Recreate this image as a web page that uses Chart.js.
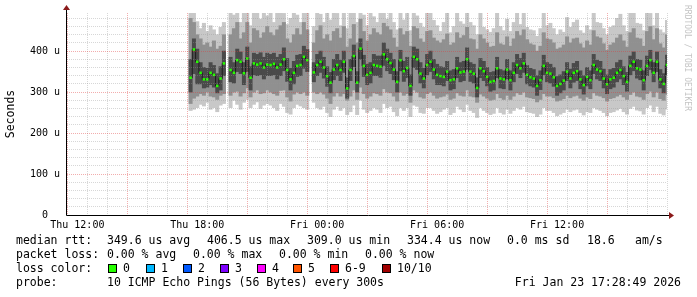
<!DOCTYPE html>
<html>
<head>
<meta charset="utf-8">
<script src="https://cdn.jsdelivr.net/npm/chart.js@4.4.1/dist/chart.umd.min.js"></script>
<style>
    html, body { margin: 0; padding: 0; background: #fff; }
    #wrap { width: 697px; height: 297px; }
</style>
</head>
<body>
<div id="wrap"><canvas id="smokeChart" width="697" height="297"></canvas></div>
<script>
// Minutes after Thu 12:00. One sample every 10 minutes, first one at Thu 17:40.
const startMinute = 340;
const stepMinutes = 10;
const axisMin = -31;   // Thu 11:28:49
const axisMax = 1770;  // Fri 17:28:49

// Median rtt (us)
const median = [
    335, 404, 374, 347, 331, 331, 347, 342, 315, 333, 370, null,
    354, 347, 378, 374, 346, 382, 335, 370, 367, 370, 360, 367,
    366, 369, 360, 367, 380, 354, 331, 347, 364, 366, 386, 378,
    null, 348, 366, 374, 360, 339, 323, 355, 366, 354, 374, 309,
    354, 388, 323, 406, 364, 342, 347, 366, 364, 362, 392, 380,
    371, 355, 325, 378, 351, 359, 315, 386, 380, 345, 333, 366,
    374, 355, 342, 339, 337, 350, 329, 331, 358, 348, 350, 380,
    350, 345, 310, 358, 351, 337, 325, 327, 358, 333, 331, 355,
    329, 347, 366, 358, 370, 342, 336, 333, 315, 329, 364, 347,
    345, 336, 315, 320, 328, 350, 333, 347, 351, 331, 317, 337,
    329, 366, 355, 351, 333, 319, 331, 335, 347, 354, 339, 325,
    364, 374, 358, 355, 329, 364, 378, 347, 374, 331, 320, 366
];

// Smoke: outer pings (max / min)
const pingMax = [
    500, 500, 472, 455, 468, 448, 462, 452, 440, 458, 470, null,
    500, 488, 500, 470, 500, 500, 462, 495, 500, 478, 500, 486,
    500, 470, 500, 500, 492, 465, 480, 500, 488, 470, 500, 500,
    null, 460, 500, 490, 470, 500, 476, 500, 492, 462, 500, 455,
    500, 500, 470, 500, 488, 462, 500, 484, 470, 500, 500, 478,
    500, 470, 452, 500, 476, 492, 450, 500, 486, 468, 458, 500,
    500, 475, 462, 448, 470, 500, 445, 460, 500, 472, 466, 500,
    470, 462, 440, 500, 458, 452, 446, 455, 500, 460, 450, 478,
    448, 470, 500, 465, 500, 458, 452, 450, 436, 455, 500, 462,
    468, 455, 440, 452, 446, 482, 458, 470, 476, 450, 444, 462,
    452, 500, 470, 468, 455, 440, 458, 462, 480, 490, 462, 448,
    500, 500, 468, 466, 450, 500, 492, 462, 500, 452, 445, 475
];
const pingMin = [
    255, 258, 262, 270, 266, 275, 258, 262, 252, 268, 272, null,
    262, 280, 270, 258, 275, 282, 262, 270, 276, 260, 268, 272,
    268, 262, 255, 272, 265, 250, 246, 262, 270, 266, 262, 258,
    null, 275, 262, 258, 265, 250, 240, 258, 265, 255, 262, 245,
    252, 268, 245, 280, 258, 250, 255, 262, 258, 250, 272, 262,
    265, 252, 242, 262, 255, 262, 240, 268, 265, 250, 248, 262,
    262, 255, 248, 252, 258, 262, 245, 250, 265, 258, 252, 270,
    255, 250, 238, 262, 255, 250, 245, 248, 262, 250, 246, 258,
    248, 255, 262, 258, 265, 252, 250, 248, 240, 246, 262, 255,
    255, 250, 242, 246, 250, 258, 252, 256, 258, 250, 244, 252,
    250, 262, 258, 255, 250, 242, 250, 252, 256, 260, 252, 246,
    260, 265, 256, 254, 246, 262, 268, 252, 265, 248, 244, 258
];

// Smoke: second band
const band2High = [
    480, 470, 440, 430, 415, 420, 410, 425, 405, 412, 440, null,
    440, 455, 470, 430, 445, 470, 420, 455, 450, 432, 445, 460,
    445, 438, 452, 462, 470, 430, 420, 440, 455, 440, 470, 452,
    null, 420, 450, 462, 430, 440, 425, 448, 455, 432, 460, 410,
    430, 465, 420, 478, 448, 425, 440, 455, 445, 440, 468, 460,
    452, 432, 410, 455, 440, 448, 412, 460, 455, 430, 422, 448,
    450, 432, 425, 420, 428, 442, 415, 420, 445, 432, 438, 458,
    430, 428, 405, 440, 430, 420, 410, 412, 445, 418, 415, 435,
    412, 430, 448, 438, 452, 428, 418, 415, 400, 412, 445, 430,
    428, 420, 405, 408, 415, 435, 420, 430, 432, 418, 408, 425,
    415, 450, 435, 432, 418, 402, 415, 420, 432, 440, 425, 410,
    445, 455, 432, 430, 412, 448, 460, 428, 455, 418, 408, 440
];
const band2Low = [
    272, 285, 290, 296, 292, 300, 290, 288, 282, 292, 296, null,
    292, 300, 302, 290, 298, 310, 288, 300, 305, 296, 298, 305,
    300, 296, 292, 304, 305, 288, 278, 295, 300, 296, 300, 292,
    null, 300, 296, 300, 295, 285, 272, 290, 298, 290, 296, 280,
    290, 305, 282, 312, 296, 285, 290, 298, 296, 292, 308, 300,
    298, 290, 278, 300, 292, 296, 275, 305, 300, 288, 285, 296,
    300, 292, 285, 288, 290, 295, 282, 285, 298, 292, 290, 305,
    290, 288, 275, 295, 290, 285, 280, 282, 296, 286, 282, 292,
    282, 290, 298, 294, 300, 288, 286, 284, 276, 282, 296, 290,
    290, 286, 278, 280, 284, 292, 286, 290, 292, 285, 280, 288,
    284, 298, 292, 290, 286, 278, 284, 286, 290, 294, 288, 282,
    294, 300, 290, 288, 282, 296, 302, 288, 300, 284, 280, 294
];

// Smoke: inner band around the median
const band3High = [
    380, 430, 405, 372, 360, 358, 372, 365, 345, 362, 400, null,
    385, 372, 405, 398, 372, 410, 362, 395, 392, 396, 385, 395,
    392, 395, 385, 392, 408, 382, 358, 375, 390, 392, 412, 404,
    null, 372, 392, 400, 385, 362, 348, 380, 392, 378, 400, 335,
    380, 415, 350, 430, 390, 368, 372, 392, 388, 388, 420, 405,
    395, 380, 350, 402, 375, 385, 342, 410, 405, 372, 358, 392,
    400, 380, 368, 362, 360, 375, 352, 355, 385, 372, 375, 408,
    372, 368, 335, 382, 375, 360, 348, 350, 385, 355, 352, 380,
    352, 372, 392, 382, 395, 365, 358, 355, 340, 352, 390, 372,
    368, 360, 338, 342, 350, 372, 356, 370, 375, 352, 340, 360,
    352, 392, 378, 375, 356, 342, 355, 358, 372, 378, 362, 348,
    388, 398, 380, 378, 352, 388, 402, 372, 398, 355, 345, 390
];
const band3Low = [
    300, 345, 320, 320, 310, 312, 318, 312, 298, 305, 340, null,
    325, 322, 350, 345, 318, 350, 305, 342, 340, 342, 332, 340,
    340, 342, 332, 340, 352, 326, 305, 320, 338, 340, 358, 350,
    null, 325, 340, 348, 334, 314, 298, 330, 340, 328, 348, 285,
    328, 362, 300, 380, 338, 318, 322, 340, 340, 336, 365, 352,
    345, 330, 300, 352, 326, 335, 292, 360, 355, 322, 310, 342,
    350, 332, 318, 318, 315, 328, 305, 308, 335, 325, 328, 355,
    326, 322, 288, 335, 328, 315, 302, 305, 335, 310, 308, 332,
    305, 325, 345, 335, 348, 320, 315, 312, 292, 306, 342, 325,
    322, 314, 292, 298, 305, 328, 310, 324, 328, 308, 295, 315,
    308, 345, 332, 328, 310, 296, 308, 312, 325, 332, 318, 302,
    342, 352, 334, 330, 305, 340, 355, 325, 350, 310, 298, 342
];

// Axis ticks
const xTickMinutes = [0, 360, 720, 1080, 1440];
const xTickLabels = ['Thu 12:00', 'Thu 18:00', 'Fri 00:00', 'Fri 06:00', 'Fri 12:00'];
const yTickValues = [0, 100, 200, 300, 400];
const yTickLabels = ['0  ', '100 u', '200 u', '300 u', '400 u'];

// Legend rows under the graph
const rttRow = [
    ['median rtt:', 16], ['349.6 us avg', 107], ['406.5 us max', 207], ['309.0 us min', 307],
    ['334.4 us now', 407], ['0.0 ms sd', 507], ['18.6', 587], ['am/s', 635]
];
const lossRow = [
    ['packet loss:', 16], ['0.00 % avg', 107], ['0.00 % max', 193], ['0.00 % min', 279], ['0.00 % now', 365]
];
const lossLabels = ['0', '1', '2', '3', '4', '5', '6-9', '10/10'];
const lossColors = ['#26ff00', '#00b8ff', '#0059ff', '#7e00ff', '#ff00ff', '#ff5500', '#ff0000', '#a10000'];
const lossBoxX = [108, 146, 183, 220, 257, 293, 330, 382];
const probeText = '10 ICMP Echo Pings (56 Bytes) every 300s';
const stampText = 'Fri Jan 23 17:28:49 2026';

const MONO = '"DejaVu Sans Mono", monospace';
const minorGrid = 'rgba(150, 150, 150, 0.38)';
const majorGrid = 'rgba(225, 60, 60, 0.42)';

const times = median.map((_, i) => startMinute + i * stepMinutes);

// floating bars for a smoke band
function band(lo, hi) {
    return times.map((t, i) => ({
        x: t,
        y: (lo[i] === null || hi[i] === null) ? null : [lo[i], hi[i]]
    }));
}

const barStyle = {
    type: 'bar',
    grouped: false,
    barPercentage: 1,
    categoryPercentage: 1,
    borderWidth: 0
};

// extra drawing rrdtool does outside the plot: axes with arrows, legend text
const rrdDecor = {
    id: 'rrdDecor',
    afterDraw(chart) {
        const ctx = chart.ctx;
        const area = chart.chartArea;
        ctx.save();

        // axes
        ctx.strokeStyle = '#000';
        ctx.lineWidth = 1;
        ctx.beginPath();
        ctx.moveTo(area.left - 0.5, area.bottom + 0.5);
        ctx.lineTo(area.right + 3, area.bottom + 0.5);
        ctx.moveTo(area.left - 0.5, area.bottom + 0.5);
        ctx.lineTo(area.left - 0.5, area.top - 4);
        ctx.stroke();

        ctx.fillStyle = '#8b1a1a';
        ctx.beginPath();
        ctx.moveTo(area.right + 7, area.bottom + 0.5);
        ctx.lineTo(area.right + 2, area.bottom - 3);
        ctx.lineTo(area.right + 2, area.bottom + 4);
        ctx.closePath();
        ctx.fill();
        ctx.beginPath();
        ctx.moveTo(area.left - 0.5, area.top - 8);
        ctx.lineTo(area.left - 4, area.top - 3);
        ctx.lineTo(area.left + 3, area.top - 3);
        ctx.closePath();
        ctx.fill();

        // y axis title
        ctx.fillStyle = '#000';
        ctx.font = '11.5px ' + MONO;
        ctx.textAlign = 'center';
        ctx.textBaseline = 'middle';
        ctx.save();
        ctx.translate(11, (area.top + area.bottom) / 2);
        ctx.rotate(-Math.PI / 2);
        ctx.fillText('Seconds', 0, 0);
        ctx.restore();

        // watermark
        ctx.save();
        ctx.fillStyle = '#c4c4c4';
        ctx.font = '8px ' + MONO;
        ctx.textAlign = 'left';
        ctx.translate(687, 5);
        ctx.rotate(Math.PI / 2);
        ctx.fillText('RRDTOOL / TOBI OETIKER', 0, 0);
        ctx.restore();

        // legend
        ctx.textAlign = 'left';
        ctx.font = '11.5px ' + MONO;
        ctx.fillStyle = '#000';
        rttRow.forEach(([txt, x]) => ctx.fillText(txt, x, 241.5));
        lossRow.forEach(([txt, x]) => ctx.fillText(txt, x, 255.5));
        ctx.fillText('loss color:', 16, 269.5);
        lossLabels.forEach((lbl, i) => {
            const bx = lossBoxX[i];
            ctx.fillStyle = lossColors[i];
            ctx.fillRect(bx, 264, 9, 9);
            ctx.strokeStyle = '#000';
            ctx.strokeRect(bx + 0.5, 264.5, 8, 8);
            ctx.fillStyle = '#000';
            ctx.fillText(lbl, bx + 15, 269.5);
        });
        ctx.fillText('probe:', 16, 283.5);
        ctx.fillText(probeText, 107, 283.5);
        ctx.textAlign = 'right';
        ctx.fillText(stampText, 681, 283.5);

        ctx.restore();
    }
};

new Chart(document.getElementById('smokeChart'), {
    type: 'bar',
    data: {
        datasets: [
            {
                type: 'line',
                label: 'loss 0',
                data: times.map((t, i) => ({ x: t, y: median[i] })),
                showLine: false,
                pointStyle: 'rect',
                pointRadius: 1.8,
                pointBackgroundColor: '#26ff00',
                pointBorderWidth: 0,
                order: 1
            },
            {
                type: 'line',
                label: 'median',
                data: times.map((t, i) => ({ x: t, y: median[i] })),
                stepped: 'middle',
                borderColor: '#1c1c1c',
                borderWidth: 1,
                pointRadius: 0,
                spanGaps: false,
                order: 2
            },
            { ...barStyle, label: 'inner', data: band(band3Low, band3High), backgroundColor: '#4a4a4a', order: 3 },
            { ...barStyle, label: 'band 2', data: band(band2Low, band2High), backgroundColor: '#909090', order: 4 },
            { ...barStyle, label: 'outer', data: band(pingMin, pingMax), backgroundColor: '#c8c8c8', order: 5 }
        ]
    },
    options: {
        responsive: false,
        animation: false,
        devicePixelRatio: 1,
        layout: { padding: { top: 13, right: 30, left: 0, bottom: 0 } },
        plugins: {
            legend: { display: false },
            tooltip: { enabled: false }
        },
        scales: {
            x: {
                type: 'linear',
                min: axisMin,
                max: axisMax,
                offset: false,
                afterBuildTicks(axis) {
                    const ticks = [];
                    for (let m = 0; m < axisMax; m += 60) ticks.push({ value: m });
                    axis.ticks = ticks;
                },
                afterFit(axis) { axis.height = 82; },
                ticks: {
                    autoSkip: false,
                    maxRotation: 0,
                    padding: 4,
                    color: '#000',
                    font: { family: MONO, size: 10 },
                    callback(value) {
                        const k = xTickMinutes.indexOf(value);
                        return k >= 0 ? xTickLabels[k] : '';
                    }
                },
                grid: {
                    z: 1,
                    drawTicks: false,
                    color: c => (c.tick && c.tick.value % 180 === 0) ? majorGrid : minorGrid
                },
                border: { display: false, dash: [1, 1] }
            },
            y: {
                min: 0,
                max: 493,
                afterBuildTicks(axis) {
                    const ticks = [];
                    for (let v = 0; v <= 480; v += 20) ticks.push({ value: v });
                    axis.ticks = ticks;
                },
                afterFit(axis) { axis.width = 67; },
                ticks: {
                    autoSkip: false,
                    padding: 7,
                    color: '#000',
                    font: { family: MONO, size: 10 },
                    callback(value) {
                        const k = yTickValues.indexOf(value);
                        return k >= 0 ? yTickLabels[k] : '';
                    }
                },
                grid: {
                    z: 1,
                    drawTicks: false,
                    color: c => {
                        if (!c.tick || c.tick.value === 0) return 'rgba(0,0,0,0)';
                        return c.tick.value % 100 === 0 ? majorGrid : minorGrid;
                    }
                },
                border: { display: false, dash: [1, 1] }
            }
        }
    },
    plugins: [rrdDecor]
});
</script>
</body>
</html>
